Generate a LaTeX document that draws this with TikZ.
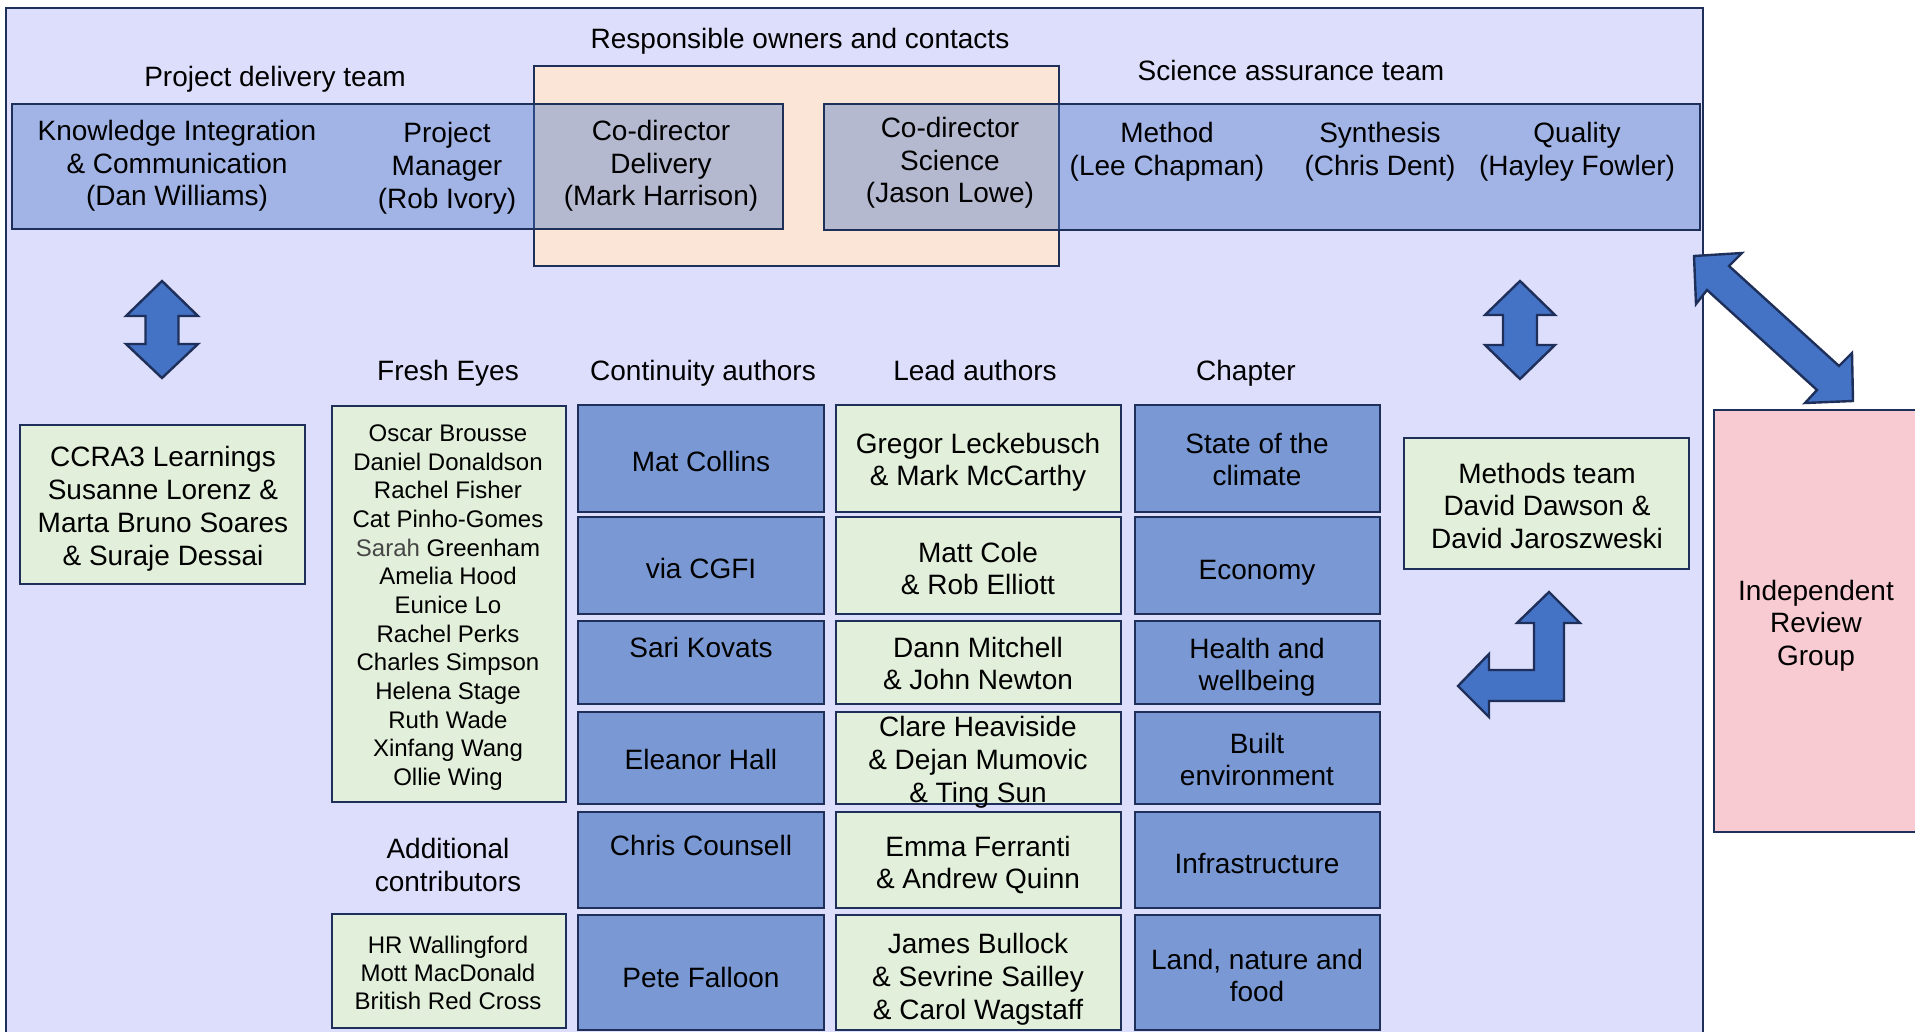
\documentclass[tikz,border=0pt]{standalone}
\usepackage{fontspec}
\setmainfont{Liberation Sans}
\definecolor{lav}{RGB}{221,222,252}
\definecolor{peach}{RGB}{251,229,214}
\definecolor{bandblue}{RGB}{68,114,196}
\definecolor{boxblue}{RGB}{122,153,212}
\definecolor{greenbox}{RGB}{226,239,218}
\definecolor{pinkbox}{RGB}{248,203,211}
\definecolor{arrowblue}{RGB}{68,114,196}
\definecolor{navy}{RGB}{30,47,90}
\definecolor{sarahgray}{RGB}{70,70,70}
\newcommand\txtl[6][txt]{\foreach \s [count=\i] in {#6}{\node[#1] (#2-\i) at (#3,{#4+(\i-1)*#5}) {\s};}}
\begin{document}
\begin{tikzpicture}[x=1pt,y=-1pt,
  bx/.style={draw=navy, line width=2.4pt, inner sep=0pt, outer sep=0pt, anchor=north west},
  txt/.style={anchor=base, inner sep=0pt, font=\fontsize{28}{32}\selectfont},
  sm/.style={anchor=base, inner sep=0pt, font=\fontsize{24}{28}\selectfont},
  blockarrow/.style={fill=arrowblue, draw=navy, line width=2.4pt, line join=miter}]
\useasboundingbox (0,0) rectangle (1915,1032);
\clip (0,0) rectangle (1915,1032);

% outer frame
\node[bx, fill=lav, line width=2pt, minimum width=1697, minimum height=1060] (outer) at (6,8) {};
% responsible owners
\node[bx, fill=peach, minimum width=525, minimum height=200] (owners) at (534,66) {};
% team bands
\node[bx, fill=bandblue, fill opacity=0.38, minimum width=771, minimum height=125] (pdt) at (12,104) {};
\node[bx, fill=bandblue, fill opacity=0.38, minimum width=876, minimum height=126] (sat) at (824,104) {};

% independent review group
\node[bx, fill=pinkbox, minimum width=230, minimum height=422] (irg) at (1714,410) {};

% side boxes
\node[bx, fill=greenbox, minimum width=285, minimum height=159] (ccra) at (20,425) {};
\node[bx, fill=greenbox, minimum width=285, minimum height=131] (methods) at (1404,438) {};
\node[bx, fill=greenbox, minimum width=234, minimum height=396] (fresh) at (332,406) {};
\node[bx, fill=greenbox, minimum width=234, minimum height=114] (addc) at (332,914) {};

% grid
\foreach \t/\b [count=\r] in {405/512,517/614,621/704,712/804,812/908,915/1030} {
  \node[bx, fill=boxblue, minimum width=246, minimum height={\b-\t}] (cont\r) at (578,\t) {};
  \node[bx, fill=greenbox, minimum width=285, minimum height={\b-\t}] (lead\r) at (836,\t) {};
  \node[bx, fill=boxblue, minimum width=245, minimum height={\b-\t}] (chap\r) at (1135,\t) {};
}

% titles
\node[txt] (t-owners) at (800,49) {Responsible owners and contacts};
\node[txt] (t-pdt) at (275,87) {Project delivery team};
\node[txt] (t-sat) at (1291,81) {Science assurance team};
\txtl{ki}{177}{141}{32.5}{Knowledge Integration,\& Communication,(Dan Williams)}
\txtl{pm}{447}{143}{33}{Project,Manager,(Rob Ivory)}
\txtl{cdd}{661}{141}{32.5}{Co-director,Delivery,(Mark Harrison)}
\txtl{cds}{950}{138}{32.5}{Co-director,Science,(Jason Lowe)}
\txtl{me}{1167}{143}{33}{Method,(Lee Chapman)}
\txtl{sy}{1380}{143}{33}{Synthesis,(Chris Dent)}
\txtl{qu}{1577}{143}{33}{Quality,(Hayley Fowler)}

% column headers
\node[txt] (h-fresh) at (448,381) {Fresh Eyes};
\node[txt] (h-cont) at (703,381) {Continuity authors};
\node[txt] (h-lead) at (975,381) {Lead authors};
\node[txt] (h-chap) at (1246,381) {Chapter};

% left side
\txtl{ccrat}{163}{466}{33}{CCRA3 Learnings,Susanne Lorenz \&,Marta Bruno Soares,\& Suraje Dessai}
\txtl[sm]{fe}{448}{441.5}{28.65}{Oscar Brousse,Daniel Donaldson,Rachel Fisher,Cat Pinho-Gomes,{\textcolor{sarahgray}{Sarah} Greenham},Amelia Hood,Eunice Lo,Rachel Perks,Charles Simpson,Helena Stage,Ruth Wade,Xinfang Wang,Ollie Wing}
\txtl{ac}{448}{858}{33}{Additional,contributors}
\txtl[sm]{acn}{448}{953.5}{28}{HR Wallingford,Mott MacDonald,British Red Cross}

% continuity authors
\node[txt] (ct1) at (701,471) {Mat Collins};
\node[txt] (ct2) at (701,578) {via CGFI};
\node[txt] (ct3) at (701,657) {Sari Kovats};
\node[txt] (ct4) at (701,769) {Eleanor Hall};
\node[txt] (ct5) at (701,855) {Chris Counsell};
\node[txt] (ct6) at (701,987) {Pete Falloon};

% lead authors
\txtl{la1}{978}{453}{32.5}{Gregor Leckebusch,\& Mark McCarthy}
\txtl{la2}{978}{562}{32.5}{Matt Cole,\& Rob Elliott}
\txtl{la3}{978}{657}{32.5}{Dann Mitchell,\& John Newton}
\txtl{la4}{978}{736}{33}{Clare Heaviside,\& Dejan Mumovic,\& Ting Sun}
\txtl{la5}{978}{856}{32.5}{Emma Ferranti,\& Andrew Quinn}
\txtl{la6}{978}{953}{33}{James Bullock,\& Sevrine Sailley,\& Carol Wagstaff}

% chapters
\txtl{ch1}{1257}{453}{32.5}{State of the,climate}
\node[txt] (ch2) at (1257,579) {Economy};
\txtl{ch3}{1257}{658}{32.5}{Health and,wellbeing}
\txtl{ch4}{1257}{753}{32.5}{Built,environment}
\node[txt] (ch5) at (1257,873) {Infrastructure};
\txtl{ch6}{1257}{969}{32.5}{{Land, nature and},food}

% right side
\txtl{mt}{1547}{483}{32.5}{Methods team,David Dawson \&,David Jaroszweski}
\txtl{irgt}{1816}{600}{32.5}{Independent,Review,Group}

% block arrows
\draw[blockarrow] (162,281) -- (198,316) -- (178.5,316) -- (178.5,344) -- (198,344) -- (162,378) -- (126,344) -- (145.5,344) -- (145.5,316) -- (126,316) -- cycle;
\draw[blockarrow] (1520,281) -- (1555,315) -- (1537,315) -- (1537,345) -- (1555,345) -- (1520,379) -- (1485,345) -- (1503,345) -- (1503,315) -- (1485,315) -- cycle;
\draw[blockarrow] (1549,592) -- (1580,623) -- (1564,623) -- (1564,701) -- (1489,701) -- (1489,717) -- (1458,686) -- (1489,654) -- (1489,670) -- (1534,670) -- (1534,623) -- (1517,623) -- cycle;
\draw[blockarrow] (1694,256) -- (1742,253) -- (1729,266) -- (1839,366) -- (1852,353) -- (1853,401) -- (1805,403) -- (1817,390) -- (1707,290) -- (1696,304) -- cycle;
\end{tikzpicture}
\end{document}
